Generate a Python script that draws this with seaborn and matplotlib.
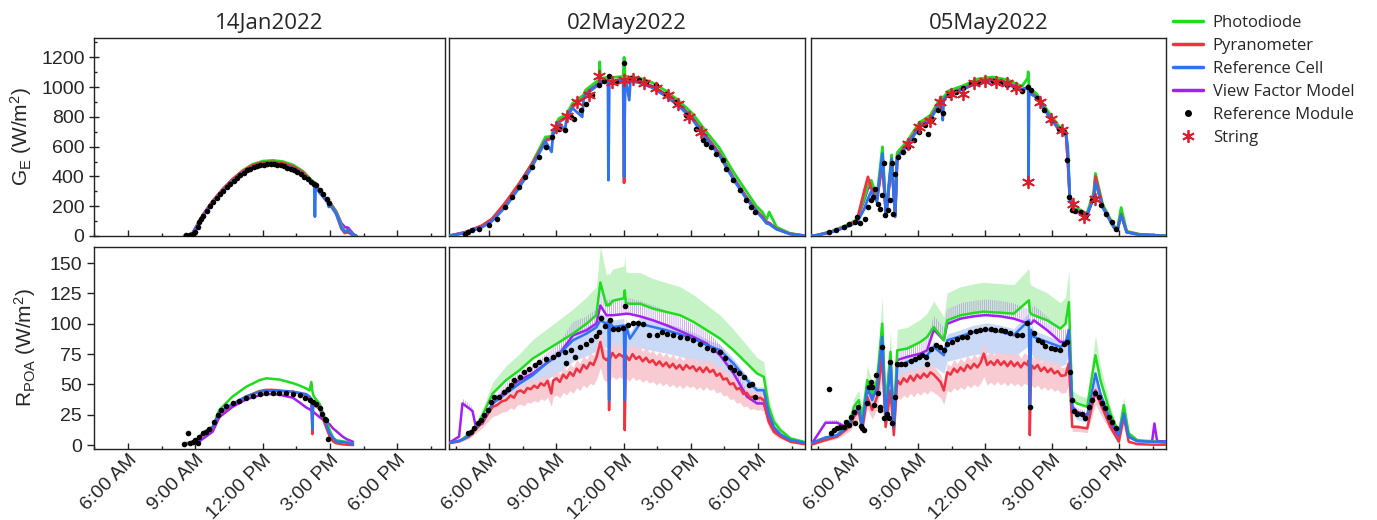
import numpy as np
import seaborn as sns
import matplotlib.pyplot as plt
from matplotlib.lines import Line2D
from matplotlib.ticker import FixedLocator, FuncFormatter, MultipleLocator

sns.set_theme(style="ticks")
plt.rcParams['font.family'] = ['Liberation Sans', 'DejaVu Sans']
plt.rcParams['mathtext.default'] = 'regular'
plt.rcParams['hatch.linewidth'] = 0.5

# colours
c_pd = '#1fdc1f'
c_pyr = '#ef3342'
c_ref = '#2f72f2'
c_vf = '#a51ff0'
c_str = '#d8202e'

titles = ['14Jan2022', '02May2022', '05May2022']

# ---------------- G_E (top row) ----------------
# 14 Jan
t_jan_g = [8.5, 8.65, 8.88, 9.14, 9.35, 9.77, 10.22, 10.66, 11.11, 11.56, 12.01, 12.45, 12.9, 13.35, 13.79,
           14.24, 14.3, 14.33, 14.36, 14.54, 14.9, 14.95, 15.0, 15.28, 15.51, 15.66, 15.81, 16.03, 16.18]
jan_g_ref = [0, 2, 16, 80, 135, 225, 303, 370, 426, 465, 483, 487, 478, 456, 415,
             345, 335, 130, 330, 290, 225, 195, 210, 148, 55, 30, 38, 8, 0]
jan_g_pyr = [0, 2, 18, 88, 145, 235, 315, 382, 437, 476, 494, 498, 490, 468, 428,
             360, 355, 352, 350, 300, 232, 228, 222, 150, 50, 20, 25, 5, 0]
jan_g_pd = [0, 2, 15, 83, 140, 232, 312, 382, 440, 482, 503, 508, 500, 478, 436,
            366, 362, 358, 355, 305, 238, 233, 228, 160, 70, 30, 40, 8, 0]
jan_g_vf = [0, 5, 22, 90, 145, 232, 310, 376, 430, 470, 488, 492, 484, 462, 420,
            352, 348, 345, 342, 300, 235, 230, 225, 165, 85, 60, 55, 15, 0]
jan_g_mod_t = [8.6, 8.75, 8.9, 9.0, 9.1, 9.17, 9.25, 9.35, 9.5, 9.65, 9.8, 9.95, 10.1, 10.25, 10.4, 10.55,
               10.7, 10.85, 11.0, 11.15, 11.3, 11.45, 11.6, 11.75, 11.9, 12.05, 12.2, 12.35, 12.5, 12.65,
               12.8, 12.95, 13.1, 13.25, 13.4, 13.55, 13.7, 13.85, 14.0, 14.15, 14.3, 14.4, 14.55, 14.7,
               14.85, 14.98]
jan_g_mod = [5, 8, 15, 30, 60, 95, 115, 135, 165, 200, 228, 255, 282, 305, 330, 352,
             372, 392, 410, 425, 440, 452, 462, 470, 476, 480, 482, 482, 481, 478,
             474, 468, 460, 450, 440, 428, 414, 398, 380, 360, 348, 340, 310, 280,
             250, 220]

# 02 May
t_may2_g = [4.2, 4.33, 4.92, 5.67, 6.12, 6.72, 7.32, 7.91, 8.51, 8.78, 8.85, 9.11, 9.38, 9.45, 9.71,
            10.15, 10.22, 10.3, 10.9, 10.93, 10.97, 11.3, 11.32, 11.36, 11.5, 11.98, 12.02, 12.06, 12.1,
            12.25, 12.3, 12.7, 13.29, 13.89, 14.49, 15.09, 15.69, 16.28, 16.88, 17.48, 17.93, 18.2,
            18.38, 18.5, 18.83, 19.42, 19.95, 20.1]
may2_g_ref = [2, 4, 20, 58, 100, 195, 320, 465, 635, 565, 690, 760, 711, 790, 860,
              800, 925, 950, 1020, 1060, 1030, 1035, 375, 1035, 1035, 1045, 397, 1045, 1045,
              913, 1040, 1030, 995, 938, 870, 780, 650, 540, 385, 250, 165, 120,
              85, 80, 45, 14, 4, 2]
may2_g_pyr = [2, 4, 25, 70, 115, 225, 350, 485, 640, 655, 680, 765, 790, 795, 865,
              920, 925, 952, 1022, 1030, 1028, 1035, 1000, 1035, 1036, 1047, 357, 1047, 1047,
              1040, 1042, 1034, 1000, 944, 876, 786, 662, 550, 392, 258, 170, 130,
              92, 85, 48, 15, 4, 2]
may2_g_pd = [2, 5, 22, 66, 112, 215, 345, 490, 665, 670, 705, 790, 810, 815, 890,
             940, 950, 980, 1050, 1170, 1060, 1065, 1060, 1065, 1065, 1072, 1200, 1075, 1072,
             1068, 1068, 1062, 1030, 975, 905, 820, 700, 590, 435, 300, 200, 160,
             110, 161, 60, 18, 5, 2]
may2_g_vf = [2, 6, 25, 68, 112, 215, 340, 480, 650, 655, 690, 772, 795, 800, 872,
             925, 932, 960, 1030, 1060, 1035, 1040, 1040, 1042, 1042, 1052, 1052, 1052, 1052,
             1048, 1048, 1040, 1005, 950, 882, 792, 670, 556, 398, 262, 172, 128,
             95, 88, 50, 16, 4, 2]
may2_g_mod_t = [4.92, 5.07, 5.22, 5.52, 5.97, 6.34, 6.72, 7.02, 7.32, 7.61, 7.91, 8.21, 8.51, 8.81, 9.11,
                9.38, 9.63, 9.78, 10.08, 10.3, 10.6, 10.9, 11.13, 11.35, 11.65, 12.02, 12.32, 12.7, 12.99,
                13.44, 13.89, 14.34, 14.79, 15.24, 15.54, 15.69, 15.91, 16.13, 16.43, 16.58, 16.88, 17.18,
                17.48, 17.7, 17.85]
may2_g_mod = [16, 27, 38, 49, 72, 117, 195, 262, 330, 397, 464, 531, 599, 666, 722,
              711, 800, 789, 845, 890, 946, 1014, 1040, 1074, 1036, 1159, 1058, 1047, 1036,
              1014, 957, 901, 812, 722, 644, 621, 599, 554, 509, 453, 374, 307,
              240, 195, 161]
may2_str_t = [8.96, 9.48, 9.93, 10.45, 10.9, 11.5, 12.02, 12.4, 12.92, 13.44, 13.97, 14.42, 14.94, 15.46]
may2_str = [733, 805, 901, 946, 1074, 1036, 1047, 1052, 1025, 991, 946, 890, 800, 700]

# 05 May
t_may5_g = [4.2, 4.44, 5.1, 5.75, 6.25, 6.58, 6.75, 6.9, 7.15, 7.4, 7.56, 7.81, 7.97, 8.06, 8.55,
            9.04, 9.54, 10.03, 10.1, 10.15, 10.36, 11.02, 11.67, 12.33, 12.99, 13.65, 13.9, 13.93,
            13.94, 13.97, 14.31, 14.8, 15.29, 15.62, 15.7, 15.79, 15.95, 16.28, 16.53, 16.86, 16.94,
            17.27, 17.76, 17.92, 18.09, 18.34, 18.91, 19.98, 20.1]
may5_g_ref = [2, 4, 25, 58, 90, 180, 250, 300, 230, 554, 128, 520, 128, 525, 615,
              728, 780, 905, 778, 920, 950, 985, 1030, 1042, 1020, 975, 1000, 1010,
              363, 960, 930, 818, 715, 680, 600, 255, 168, 155, 122, 262, 360,
              190, 58, 35, 140, 25, 8, 2, 2]
may5_g_pyr = [1, 3, 28, 65, 100, 300, 397, 320, 245, 480, 140, 500, 140, 530, 625,
              735, 790, 912, 900, 915, 955, 990, 1035, 1046, 1024, 978, 995, 1000,
              990, 965, 935, 822, 720, 688, 510, 262, 175, 160, 128, 258, 400,
              195, 60, 38, 145, 27, 9, 1, 1]
may5_g_pd = [2, 5, 30, 70, 110, 250, 340, 374, 260, 599, 150, 545, 150, 560, 645,
             760, 810, 935, 920, 935, 975, 1010, 1055, 1068, 1050, 1005, 1060, 1103,
             1060, 990, 955, 840, 740, 705, 560, 280, 185, 175, 140, 290, 420,
             210, 70, 45, 191, 32, 12, 2, 2]
may5_g_vf = [2, 5, 28, 66, 102, 240, 320, 330, 240, 520, 135, 500, 135, 540, 630,
             745, 800, 920, 910, 925, 960, 998, 1042, 1055, 1032, 985, 1000, 1000,
             995, 970, 940, 828, 726, 692, 520, 265, 172, 162, 130, 265, 380,
             200, 62, 40, 150, 28, 10, 2, 2]
may5_g_mod_t = [5.01, 5.34, 5.67, 5.92, 6.16, 6.28, 6.41, 6.61, 6.74, 6.87, 6.99, 7.07, 7.18, 7.27, 7.37,
                7.45, 7.53, 7.64, 7.73, 7.81, 7.89, 7.97, 8.09, 8.3, 8.55, 8.8, 9.04, 9.29, 9.45, 9.62,
                9.9, 10.11, 10.36, 10.69, 11.02, 11.35, 11.67, 12.0, 12.33, 12.66, 12.99, 13.32, 13.65,
                13.9, 14.06, 14.31, 14.64, 14.96, 15.29, 15.54, 15.65, 15.75, 15.87, 16.03, 16.28,
                16.53, 16.77, 16.94, 17.18, 17.43, 17.68, 17.84]
may5_g_mod = [27, 43, 61, 78, 94, 128, 87, 117, 195, 240, 262, 318, 217, 184, 274,
              491, 139, 173, 240, 491, 150, 419, 531, 565, 599, 644, 700, 744, 688, 789,
              845, 823, 946, 969, 991, 1025, 1029, 1043, 1040, 1029, 1014, 991, 975,
              998, 980, 924, 845, 778, 722, 700, 513, 262, 173, 168, 161,
              139, 240, 258, 206, 150, 94, 49]
may5_str_t = [8.55, 9.04, 9.54, 10.0, 10.49, 11.02, 11.51, 12.0, 12.5, 12.99, 13.4, 13.94, 14.44,
              14.93, 15.42, 15.92, 16.41, 16.9]
may5_str = [621, 733, 774, 901, 953, 953, 1025, 1040, 1036, 1025, 991, 363, 901,
            789, 711, 217, 128, 251]

# ---------------- R_POA (bottom row) ----------------
t_jan_r = [8.5, 9.03, 9.17, 9.4, 9.77, 10.07, 10.66, 11.26, 11.86, 12.16, 12.45, 12.75, 13.35, 13.65,
           13.94, 14.09, 14.17, 14.22, 14.25, 14.28, 14.54, 14.76, 14.99, 15.14, 15.28, 15.58, 15.73, 16.03]
jan_r_pd = [1.5, 2.7, 6.8, 11, 15, 29, 40, 48, 53.5, 55, 54.5, 54, 51, 49,
            46.7, 45, 52, 44, 42, 40, 34, 23, 12.3, 6, 4, 3, 2.7, 0.8]
jan_r_ref = [1, 2, 6.8, 10, 15, 27, 34, 40, 44, 44.5, 44.7, 44.5, 44, 43,
             42, 40, 38, 13, 36, 35, 31.5, 20.6, 9.6, 6, 3, 2.5, 2, 1]
jan_r_pyr = [0.5, 1.5, 6, 9, 14, 26, 33.5, 40, 44.5, 45.5, 45.5, 45, 44, 42.5,
             41, 38, 36, 9, 34, 33, 30, 18, 7, 3, 1.5, 0.5, 0.3, 0]
jan_r_vf = [0.5, 2, 3, 6, 11, 23, 31.5, 37.6, 41, 42, 42, 41.5, 39, 35,
            31, 29.5, 28.5, 28, 27.5, 27, 23, 20, 17, 13.7, 11.5, 6.8, 5, 2.7]
jan_r_mod_t = [8.5, 8.65, 8.76, 8.88, 9.0, 9.1, 9.17, 9.32, 9.47, 9.62, 9.84, 9.99, 10.14, 10.37, 10.66,
               10.96, 11.26, 11.56, 11.86, 12.16, 12.45, 12.75, 13.05, 13.35, 13.65, 13.87, 14.09, 14.24,
               14.39, 14.54, 14.66, 14.76, 14.84, 14.91]
jan_r_mod = [0.8, 10.1, 1.9, 2.7, 4.1, 1.9, 6.9, 9.6, 11, 12.9, 19.2, 24.7, 28.8, 32.1, 34.3,
             36.5, 38.4, 40.3, 42, 42.5, 43, 43, 42.5, 42, 40.9, 39.2, 37, 35.6,
             33.7, 30.2, 26, 21.1, 20.6, 4.9]

# 02 May
t_may2_r = [4.2, 4.28, 4.65, 4.8, 5.1, 5.25, 5.4, 5.7, 6.15, 6.75, 7.35, 7.94, 8.54, 9.14, 9.74, 10.34,
            10.78, 10.96, 11.23, 11.32, 11.35, 11.39, 11.53, 12.01, 12.05, 12.1, 12.28, 12.73, 13.32,
            13.92, 14.52, 15.12, 15.72, 16.31, 16.91, 17.51, 17.96, 18.26, 18.48, 18.71, 19.0, 19.45,
            20.05, 20.1]
may2_r_pd = [1.9, 1.9, 3.6, 5, 9, 12.3, 15, 24.7, 42.5, 53.5, 61.7, 71.3, 78.1, 85, 91.9, 100,
             107, 134, 115, 116, 115, 116, 119, 121, 127.5, 117, 116.5, 116.5, 112.4,
             109.7, 107, 101.5, 94.6, 87.7, 78.1, 67.2, 59, 56.2, 31.5, 19.2, 12.3, 5.5,
             2.7, 2.5]
may2_r_vf = [2.7, 2.7, 7, 34.3, 30.2, 28, 15, 17.8, 34.3, 45.2, 53.5, 59, 67.2, 75.4, 90.5, 94.6,
             100, 115, 107, 107, 107, 107, 107, 108, 108, 108.3, 108, 106.1, 102.8,
             98.7, 94, 89.1, 83.6, 74, 59, 39.8, 34.3, 34.3, 20.6, 13.7, 8, 4.1,
             2.2, 2.2]
may2_r_ref = [2, 2, 3.5, 4.5, 8, 12, 14, 20.6, 34.3, 42.5, 50.7, 57.6, 67.2, 75.4, 86.4, 91.9,
              97, 102.8, 100, 102, 37, 101, 97.3, 98.5, 37, 98.7, 87.7, 100, 97.3,
              94.6, 91.3, 87.7, 82.3, 78.1, 67.2, 53.5, 45.2, 45.2, 26, 15, 9, 4,
              2.2, 2.2]
# pyranometer is logged on a finer, noisier grid
t_may2_pyr = [4.2, 4.65, 5.1, 5.4, 5.7, 5.95, 6.15, 6.35, 6.55, 6.75, 6.95, 7.1, 7.25, 7.4, 7.55, 7.7,
              7.85, 8.0, 8.15, 8.3, 8.45, 8.6, 8.77, 8.85, 9.0, 9.15, 9.3, 9.45, 9.6, 9.75, 9.9, 10.05,
              10.2, 10.35, 10.5, 10.65, 10.8, 10.96, 11.1, 11.23, 11.32, 11.35, 11.39, 11.5, 11.65,
              11.8, 11.95, 12.01, 12.05, 12.1, 12.25, 12.4, 12.55, 12.7, 12.85, 13.0, 13.15, 13.3,
              13.45, 13.6, 13.75, 13.9, 14.05, 14.2, 14.35, 14.5, 14.65, 14.8, 14.95, 15.1, 15.25,
              15.4, 15.55, 15.7, 15.85, 16.0, 16.15, 16.3, 16.45, 16.6, 16.75, 16.9, 17.05, 17.2,
              17.35, 17.5, 17.65, 17.8, 17.96, 18.1, 18.26, 18.4, 18.48, 18.71, 19.0, 19.45, 20.05,
              20.1]
may2_r_pyr = [1.5, 3, 7, 13, 19.2, 26, 31.5, 33, 36, 37, 41, 39, 44, 45, 43, 47,
              46, 49, 47, 51, 49, 53, 42.5, 53, 55, 52, 58, 55, 60, 57, 63, 60,
              66, 63, 68, 66, 73, 85, 72, 70, 72, 28.8, 71, 76, 72,
              75, 73, 74, 12.3, 74, 70, 75, 71, 73, 69, 72, 68, 70,
              66, 69, 65, 68, 64, 67, 63, 66, 62, 66, 63, 65, 61,
              64, 60, 64, 60, 62, 57, 59, 54, 55, 50, 51, 46, 47,
              42, 43, 39, 40, 38.4, 39, 37, 25, 19.2, 11, 7, 2.7, 0.8,
              0.8]
may2_r_mod_t = [5.03, 5.18, 5.33, 5.48, 5.63, 5.78, 5.93, 6.07, 6.22, 6.45, 6.67, 6.82, 6.97, 7.12, 7.35,
                7.57, 7.79, 8.02, 8.24, 8.54, 8.84, 9.06, 9.36, 9.41, 9.66, 9.81, 10.04, 10.34, 10.56,
                10.78, 10.9, 11.0, 11.16, 11.38, 11.53, 11.75, 11.95, 12.05, 12.2, 12.43, 12.65, 12.88,
                13.14, 13.47, 13.7, 13.92, 14.22, 14.52, 14.82, 15.12, 15.42, 15.72, 16.01, 16.31,
                16.54, 16.76, 16.91, 17.14, 17.36, 17.58, 17.73, 17.88]
may2_r_mod = [9.6, 11, 13.7, 18.4, 20.6, 24.7, 28.8, 35.6, 39.8, 39.8, 43.9, 46.6, 49.4, 53.5, 56.2,
              60.3, 63.1, 65.8, 68.5, 71.3, 72.7, 74.9, 76.8, 67.7, 78.1, 72.7, 80.9, 83.6, 86.4,
              89.7, 93.2, 104.7, 97.9, 102.8, 96, 96, 96.8, 114.3, 98.7, 100.6, 100.6, 99.5,
              91, 91, 93.2, 91.3, 90.5, 89.1, 88.6, 86.4, 83.6, 80.3, 78.1, 76.8,
              72.1, 64.4, 61.7, 59, 55.7, 49.4, 50.7, 39.8]

# 05 May
t_may5_r = [4.2, 4.25, 4.85, 5.37, 5.75, 5.97, 6.12, 6.34, 6.49, 6.72, 6.94, 7.16, 7.39, 7.54, 7.76,
            7.91, 8.06, 8.51, 9.1, 9.4, 9.7, 10.15, 10.3, 10.9, 11.49, 11.94, 12.09, 12.69, 13.28,
            13.96, 14.0, 14.06, 14.18, 14.78, 15.37, 15.6, 15.75, 15.9, 16.12, 16.57, 16.94, 17.16,
            17.61, 17.99, 18.21, 18.43, 18.81, 19.48, 19.58, 19.7, 20.07, 20.1]
may5_r_pd = [1.5, 1.5, 4.7, 8.2, 16.5, 20.6, 31.5, 37, 22, 53.5, 42.5, 53.5, 100, 31.5, 76.8,
             17.8, 78.1, 79.5, 85, 89.1, 97.3, 86.4, 102.8, 107, 108.9, 110, 109.7, 109.1, 108.3,
             119.3, 110, 108, 107, 102.8, 96, 100, 117.9, 37, 34.3, 31.5, 74, 53.5,
             26, 9.6, 32.9, 9.6, 4.1, 2.7, 3, 2.7, 1.9, 1.9]
may5_r_vf = [1.5, 1.5, 18.4, 18.4, 15, 20, 26, 30, 22, 45, 40, 45, 91.9, 26, 72.7,
             15, 70, 72.7, 75.4, 78.1, 95.1, 86.4, 100, 104.2, 106.1, 107, 107, 106.1, 104.2,
             100, 100, 100, 102.8, 94.6, 85, 85, 86.4, 31.5, 27.4, 24.7, 42.5, 37,
             17.8, 6.9, 26, 6.9, 3.3, 3.3, 17.8, 3.3, 3, 3]
may5_r_ref = [2, 2, 6.3, 8.2, 13.7, 19.2, 26, 31.5, 15, 48, 37, 48, 89, 20.6, 67.2,
              15, 64.4, 68.5, 72.7, 74, 80.9, 74, 86.4, 89.7, 93.2, 94.5, 95.1, 93.2, 90.5,
              102.8, 32.9, 95, 89.1, 85, 80.9, 83.6, 94.6, 31.5, 26, 23.3, 59, 42.5,
              20.6, 8.2, 26, 6.9, 3.3, 2.7, 2.7, 2.7, 2.7, 2.7]
t_may5_pyr = [4.2, 4.25, 4.85, 5.37, 5.75, 5.97, 6.12, 6.34, 6.49, 6.72, 6.94, 7.16, 7.39, 7.54, 7.76,
              7.91, 8.06, 8.2, 8.35, 8.5, 8.65, 8.8, 8.95, 9.1, 9.25, 9.4, 9.55, 9.7, 9.85, 10.0,
              10.15, 10.3, 10.45, 10.6, 10.75, 10.9, 11.05, 11.2, 11.35, 11.5, 11.65, 11.8, 11.94,
              12.09, 12.25, 12.4, 12.55, 12.7, 12.85, 13.0, 13.15, 13.3, 13.45, 13.6, 13.75, 13.9,
              13.96, 14.0, 14.06, 14.2, 14.35, 14.5, 14.65, 14.8, 14.95, 15.1, 15.25, 15.4, 15.6,
              15.75, 15.9, 16.12, 16.57, 16.94, 17.16, 17.61, 17.99, 18.21, 18.43, 18.81, 19.48,
              20.1]
may5_r_pyr = [0.5, 0.5, 4.1, 6.9, 12.3, 16, 23.3, 28, 12.3, 39.8, 28.8, 39.8, 72.7, 15, 45.2,
              8.2, 53.5, 50, 55, 52, 57, 53, 58, 55, 59, 56, 60, 58, 55, 52,
              45, 60, 58, 63, 60, 64, 61, 66, 63, 67, 64, 68, 75.4,
              66, 69, 66, 70, 66, 69, 65, 69, 65, 68, 64, 68, 66,
              70, 8.2, 66, 63, 66, 61, 64, 60, 63, 59, 61, 57, 57.6,
              67.2, 15, 15, 13.7, 45.2, 34.3, 15, 2.7, 23.3, 2.7, 0.8, 0.3,
              0.3]
may5_r_mod_t = [5.0, 5.1, 5.22, 5.37, 5.52, 5.67, 5.78, 5.9, 6.0, 6.12, 6.19, 6.3, 6.42, 6.49, 6.57,
                6.69, 6.79, 6.87, 6.94, 7.04, 7.09, 7.19, 7.27, 7.31, 7.39, 7.49, 7.61, 7.69, 7.73,
                7.84, 7.94, 8.06, 8.21, 8.43, 8.66, 8.88, 9.03, 9.18, 9.33, 9.4, 9.58, 9.78, 10.0,
                10.15, 10.3, 10.52, 10.75, 10.97, 11.19, 11.34, 11.57, 11.79, 12.01, 12.24, 12.46,
                12.69, 12.91, 13.13, 13.43, 13.66, 13.88, 14.0, 14.18, 14.36, 14.55, 14.7, 14.93,
                15.15, 15.34, 15.52, 15.67, 15.79, 15.9, 16.0, 16.12, 16.34, 16.49, 16.64, 16.79,
                16.94, 17.09, 17.24, 17.39, 17.54, 17.69, 17.84]
may5_r_mod = [45.8, 10.1, 12.3, 13.7, 14.5, 15.1, 19.2, 16.5, 23.3, 27.4, 17.8, 31.5, 15.9, 13.7, 12.3,
              34.3, 48, 52.1, 48, 32.9, 57.6, 42.5, 28.8, 31.5, 80.9, 21.9, 26, 21.9, 68.5,
              17.8, 39.8, 67.2, 66.6, 67.2, 69.4, 71.3, 72.7, 74, 72.7, 67.2, 79.5, 82.3, 80.9,
              78.1, 83.1, 85, 87.7, 89.1, 89.1, 93.2, 94, 95.1, 96, 96, 94.6,
              95.1, 94, 92.4, 90.5, 90.5, 100.6, 31.5, 92.4, 86.4, 85, 81.4, 80.3,
              79.5, 78.7, 83.1, 85, 60.3, 37, 28.2, 26, 26, 21.9, 31.5, 37,
              42.5, 39.8, 34.3, 30.2, 23.3, 19.2, 13.7]

# relative band widths (below, above) for the shaded uncertainty in the R_POA panels
pd_band = (0.0, 0.22)
pyr_band = (0.25, 0.12)
ref_band = (0.2, 0.06)
vf_band = (0.0, 0.12)


# ---------------- figure ----------------
W, H = 1377, 520
fig = plt.figure(figsize=(W / 100, H / 100), dpi=100)


def add_ax(l, t, r, b):
    return fig.add_axes([l / W, 1 - b / H, (r - l) / W, (b - t) / H])


cols = [(94, 445), (449, 805), (811, 1166)]
xlims = [(4.48, 20.13), (4.2, 20.1), (4.2, 20.1)]
top_axes = [add_ax(l, 37.7, r, 236) for l, r in cols]
bot_axes = [add_ax(l, 247.3, r, 448.7) for l, r in cols]


def time_label(h, pos):
    hh = int(round(h))
    suffix = 'AM' if hh < 12 else 'PM'
    return f"{hh % 12 or 12}:00 {suffix}"


def draw_lines(ax, pd_s, pyr_s, ref_s, vf_s, lw):
    # each *_s is a (times, values) pair
    for (t, vals), col, z in [(vf_s, c_vf, 2), (pd_s, c_pd, 3), (pyr_s, c_pyr, 4), (ref_s, c_ref, 5)]:
        sns.lineplot(x=t, y=vals, ax=ax, color=col, lw=lw, estimator=None, sort=False, zorder=z)


def draw_bands(ax, pd_s, pyr_s, ref_s, vf_s):
    specs = [(pd_s, pd_band, dict(color='#c6f3c6'), 1.0),
             (ref_s, ref_band, dict(color='#cad9f6'), 1.1),
             (pyr_s, pyr_band, dict(color='#f8cad2'), 1.2),
             (vf_s, vf_band, dict(facecolor='none', edgecolor='#bb90ee', hatch='||||||||'), 1.3)]
    for (t, vals), (lo, hi), style, z in specs:
        v = np.array(vals)
        ax.fill_between(t, v * (1 - lo), v * (1 + hi), lw=0, zorder=z, **style)


def modules(ax, t, v):
    sns.scatterplot(x=t, y=v, ax=ax, color='black', s=16, linewidth=0, zorder=6)


def strings(ax, t, v):
    sns.scatterplot(x=t, y=v, ax=ax, marker=(6, 2, 0), s=70, color=c_str, edgecolor=c_str,
                    linewidth=1.3, zorder=7)


# top row
draw_lines(top_axes[0], (t_jan_g, jan_g_pd), (t_jan_g, jan_g_pyr), (t_jan_g, jan_g_ref),
           (t_jan_g, jan_g_vf), 2.0)
modules(top_axes[0], jan_g_mod_t, jan_g_mod)
draw_lines(top_axes[1], (t_may2_g, may2_g_pd), (t_may2_g, may2_g_pyr), (t_may2_g, may2_g_ref),
           (t_may2_g, may2_g_vf), 2.0)
modules(top_axes[1], may2_g_mod_t, may2_g_mod)
strings(top_axes[1], may2_str_t, may2_str)
draw_lines(top_axes[2], (t_may5_g, may5_g_pd), (t_may5_g, may5_g_pyr), (t_may5_g, may5_g_ref),
           (t_may5_g, may5_g_vf), 2.0)
modules(top_axes[2], may5_g_mod_t, may5_g_mod)
strings(top_axes[2], may5_str_t, may5_str)

# bottom row
draw_lines(bot_axes[0], (t_jan_r, jan_r_pd), (t_jan_r, jan_r_pyr), (t_jan_r, jan_r_ref),
           (t_jan_r, jan_r_vf), 1.8)
modules(bot_axes[0], jan_r_mod_t, jan_r_mod)

may2_series = [(t_may2_r, may2_r_pd), (t_may2_pyr, may2_r_pyr), (t_may2_r, may2_r_ref), (t_may2_r, may2_r_vf)]
draw_bands(bot_axes[1], *may2_series)
draw_lines(bot_axes[1], *may2_series, 1.8)
modules(bot_axes[1], may2_r_mod_t, may2_r_mod)

may5_series = [(t_may5_r, may5_r_pd), (t_may5_pyr, may5_r_pyr), (t_may5_r, may5_r_ref), (t_may5_r, may5_r_vf)]
draw_bands(bot_axes[2], *may5_series)
draw_lines(bot_axes[2], *may5_series, 1.8)
modules(bot_axes[2], may5_r_mod_t, may5_r_mod)

# axes styling
for i in range(3):
    for row, ax in enumerate([top_axes[i], bot_axes[i]]):
        ax.set_xlim(*xlims[i])
        ax.set_xlabel('')
        ax.set_ylabel('')
        ax.xaxis.set_major_locator(FixedLocator([6, 9, 12, 15, 18]))
        ax.xaxis.set_minor_locator(FixedLocator([4.5, 7.5, 10.5, 13.5, 16.5, 19.5]))
        ax.xaxis.set_major_formatter(FuncFormatter(time_label))
        ax.tick_params(axis='x', which='major', direction='in', length=4.5, width=1, color='#222')
        ax.tick_params(axis='x', which='minor', direction='in', length=2.5, width=1, color='#222')
        for s in ax.spines.values():
            s.set_linewidth(1.0)
            s.set_color('#222')
        if row == 0:
            ax.set_ylim(0, 1332)
            ax.yaxis.set_major_locator(MultipleLocator(200))
            ax.yaxis.set_minor_locator(MultipleLocator(100))
            ax.tick_params(axis='x', labelbottom=False)
            ax.set_title(titles[i], fontsize=16, pad=6, family='Open Sans')
            if i == 0:
                ax.tick_params(axis='y', which='major', direction='inout', length=6.5, width=1,
                               labelsize=14, color='#222')
                ax.tick_params(axis='y', which='minor', direction='in', length=2.5, width=1, color='#222')
        else:
            ax.set_ylim(-3, 163)
            ax.yaxis.set_major_locator(MultipleLocator(25))
            ax.tick_params(axis='x', labelsize=14, pad=2)
            for lab in ax.get_xticklabels():
                lab.set_rotation(45)
                lab.set_ha('right')
                lab.set_rotation_mode('anchor')
            if i == 0:
                ax.tick_params(axis='y', which='major', direction='out', length=5, width=1,
                               labelsize=14, color='#222')
        if i > 0:
            ax.tick_params(axis='y', which='both', left=False, labelleft=False)

top_axes[0].set_ylabel('G$_E$ (W/m$^2$)', fontsize=15)
top_axes[0].yaxis.set_label_coords(-0.172, 0.5)
bot_axes[0].set_ylabel('R$_{POA}$ (W/m$^2$)', fontsize=15)
bot_axes[0].yaxis.set_label_coords(-0.16, 0.5)

handles = [
    Line2D([], [], color=c_pd, lw=2.5, label='Photodiode'),
    Line2D([], [], color=c_pyr, lw=2.5, label='Pyranometer'),
    Line2D([], [], color=c_ref, lw=2.5, label='Reference Cell'),
    Line2D([], [], color=c_vf, lw=2.5, label='View Factor Model'),
    Line2D([], [], color='black', marker='o', ls='none', ms=4, label='Reference Module'),
    Line2D([], [], color=c_str, marker=(6, 2, 0), ls='none', ms=9, mew=1.3, label='String'),
]
fig.legend(handles=handles, loc='upper left', bbox_to_anchor=(1166 / W, 1 - 8 / H), frameon=False,
           prop={'family': 'Open Sans', 'size': 12}, handlelength=1.8, labelspacing=0.42,
           handletextpad=0.6, borderaxespad=0)

fig.savefig('out.png', dpi=100)
